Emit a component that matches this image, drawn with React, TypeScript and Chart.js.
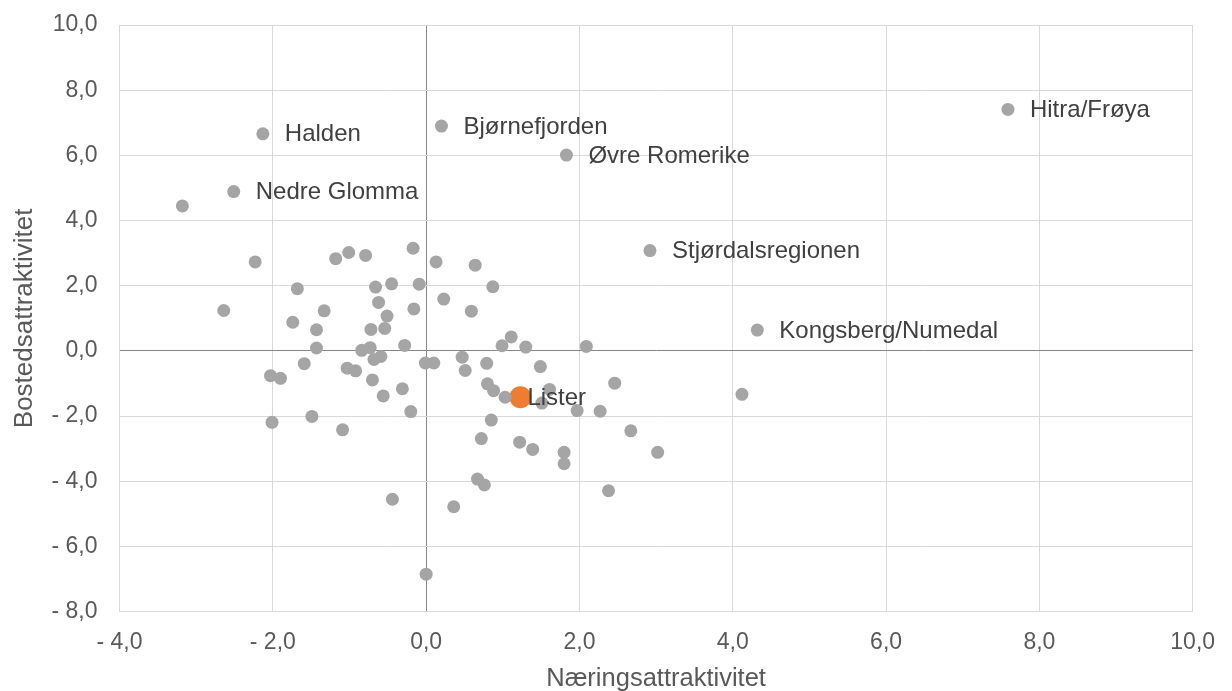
import React, { useEffect, useRef } from "react";
import { Chart, registerables } from "chart.js";

Chart.register(...registerables);

// Unlabelled regions
const grayX = [
  -3.18, -2.23, -1.18, -1.01, -0.79, -0.17, 0.13, -1.68, -0.66, -0.45, -0.09, 0.23,
  -2.64, -1.33, -0.62, -0.16, -1.74, -0.51, -1.43, -0.72, -0.54, -0.28, -1.43, -0.84,
  -0.73, -0.68, -0.59, -1.59, -0.01, 0.10, -1.03, -0.92, -2.03, -1.90, -0.70, -0.31,
  -0.56, -0.20, -1.49, -2.01, -1.09, -0.44, 0.00, 0.64, 0.87, 0.59, 1.11, 0.99,
  1.30, 2.09, 0.47, 0.51, 0.79, 1.49, 0.80, 0.88, 1.03, 1.61, 1.51, 2.46,
  1.97, 2.27, 0.85, 0.72, 1.22, 1.39, 1.80, 1.80, 2.67, 3.02, 0.67, 0.76,
  2.38, 0.36, 4.12,
];
const grayY = [
  4.45, 2.73, 2.83, 3.02, 2.93, 3.15, 2.73, 1.91, 1.96, 2.06, 2.05, 1.59,
  1.24, 1.23, 1.49, 1.29, 0.88, 1.07, 0.65, 0.66, 0.69, 0.17, 0.09, 0.02,
  0.10, -0.26, -0.17, -0.39, -0.37, -0.37, -0.53, -0.61, -0.76, -0.84, -0.89, -1.16,
  -1.38, -1.86, -2.01, -2.19, -2.42, -4.55, -6.85, 2.63, 1.97, 1.22, 0.43, 0.16,
  0.12, 0.14, -0.19, -0.60, -0.38, -0.48, -1.01, -1.22, -1.42, -1.18, -1.60, -0.99,
  -1.83, -1.85, -2.12, -2.69, -2.80, -3.02, -3.11, -3.46, -2.45, -3.11, -3.93, -4.11,
  -4.29, -4.78, -1.33,
];

// Labelled regions
const namedLabels = [
  "Halden", "Nedre Glomma", "Bjørnefjorden", "Øvre Romerike",
  "Hitra/Frøya", "Stjørdalsregionen", "Kongsberg/Numedal",
];
const namedX = [-2.13, -2.51, 0.2, 1.83, 7.59, 2.92, 4.32];
const namedY = [6.66, 4.89, 6.9, 6.01, 7.41, 3.08, 0.64];

// Highlighted region
const highlightLabel = ["Lister"];
const highlightX = [1.23];
const highlightY = [-1.42];

// Axes
const xTicksRange = { min: -4, max: 10, step: 2 };
const yTicksRange = { min: -8, max: 10, step: 2 };
const xTitle = "Næringsattraktivitet";
const yTitle = "Bostedsattraktivitet";

const FONT = "'Liberation Sans', Arial, sans-serif";

function fmt(v: number): string {
  const s = Math.abs(v).toFixed(1).replace(".", ",");
  return v < 0 ? "- " + s : s;
}

const labelPlugin = {
  id: "pointLabels",
  afterDatasetsDraw(chart: any) {
    const ctx = chart.ctx;
    ctx.save();
    ctx.font = `24px ${FONT}`;
    ctx.fillStyle = "#404040";
    ctx.textBaseline = "middle";
    ctx.textAlign = "left";
    chart.data.datasets.forEach((ds: any, i: number) => {
      if (!ds.pointNames) return;
      const meta = chart.getDatasetMeta(i);
      meta.data.forEach((el: any, j: number) => {
        ctx.fillText(ds.pointNames[j], el.x + ds.labelGap, el.y + 1);
      });
    });
    ctx.restore();
  },
};

export default function App() {
  const ref = useRef<HTMLCanvasElement>(null);
  useEffect(() => {
    if (!ref.current) return;
    const gridColor = (c: any) => (c.tick && c.tick.value === 0 ? "#868686" : "#D9D9D9");
    const chart = new Chart(ref.current, {
      type: "scatter",
      data: {
        datasets: [
          {
            data: grayX.map((x, i) => ({ x, y: grayY[i] })),
            backgroundColor: "#A5A5A5",
            borderWidth: 0,
            pointRadius: 6.5,
          },
          {
            data: namedX.map((x, i) => ({ x, y: namedY[i] })),
            backgroundColor: "#A5A5A5",
            borderWidth: 0,
            pointRadius: 6.5,
            pointNames: namedLabels,
            labelGap: 22,
          } as any,
          {
            data: highlightX.map((x, i) => ({ x, y: highlightY[i] })),
            backgroundColor: "#ED7D31",
            borderWidth: 0,
            pointRadius: 11,
            pointNames: highlightLabel,
            labelGap: 7,
          } as any,
        ],
      },
      options: {
        animation: false,
        responsive: false,
        devicePixelRatio: 1,
        layout: { padding: { top: 25, right: 39.3, left: 0, bottom: 0 } },
        plugins: { legend: { display: false }, tooltip: { enabled: false } },
        scales: {
          x: {
            type: "linear",
            min: xTicksRange.min,
            max: xTicksRange.max,
            afterFit: (s: any) => {
              s.height = 79.3;
              s.paddingLeft = 0;
              s.paddingRight = 0;
            },
            ticks: {
              stepSize: xTicksRange.step,
              callback: (v: any) => fmt(Number(v)),
              color: "#595959",
              font: { family: FONT, size: 23 },
              padding: 17,
            },
            grid: { color: gridColor, lineWidth: 1, drawTicks: false },
            border: { color: "#D9D9D9" },
            title: {
              display: true,
              text: xTitle,
              color: "#595959",
              font: { family: FONT, size: 25.5, lineHeight: 1 },
              padding: { top: 0, bottom: -1 },
            },
          },
          y: {
            type: "linear",
            min: yTicksRange.min,
            max: yTicksRange.max,
            afterFit: (s: any) => {
              s.width = 119.5;
              s.paddingTop = 0;
              s.paddingBottom = 0;
            },
            ticks: {
              stepSize: yTicksRange.step,
              callback: (v: any) => fmt(Number(v)),
              color: "#595959",
              font: { family: FONT, size: 23 },
              padding: 22,
            },
            grid: { color: gridColor, lineWidth: 1, drawTicks: false },
            border: { color: "#D9D9D9" },
            title: {
              display: true,
              text: yTitle,
              color: "#595959",
              font: { family: FONT, size: 26, lineHeight: 1 },
              padding: { top: 12, bottom: 0 },
            },
          },
        },
      } as any,
      plugins: [labelPlugin],
    });
    return () => chart.destroy();
  }, []);
  return (
    <canvas
      ref={ref}
      width={1232}
      height={691}
      style={{ position: "absolute", left: 0, top: 0, width: 1232, height: 691, display: "block" }}
    />
  );
}
